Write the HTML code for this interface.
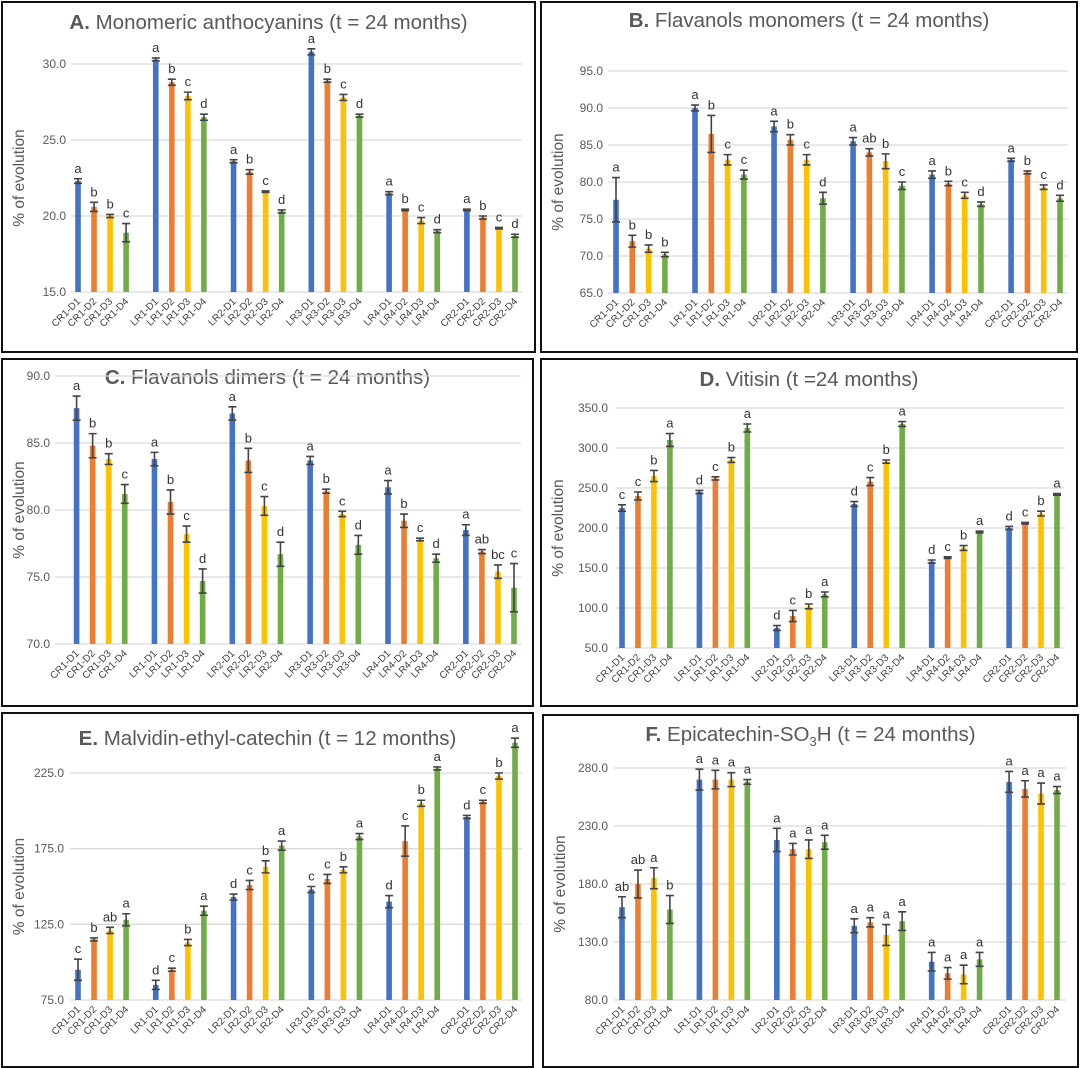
<!DOCTYPE html>
<html><head><meta charset="utf-8"><style>
html,body{margin:0;padding:0;background:#fff;}
svg{display:block;font-family:"Liberation Sans",sans-serif;}
</style></head><body>
<svg id="fig" width="1080" height="1068" viewBox="0 0 1080 1068"></svg>
<script>
const groups = ["CR1","LR1","LR2","LR3","LR4","CR2"];
const doses = ["D1","D2","D3","D4"];
const colors = ["#4472C4","#ED7D31","#FFC000","#70AD47"];

const aValues = [22.3,20.6,20.0,18.9, 30.3,28.8,27.9,26.5, 23.6,22.9,21.6,20.3, 30.8,28.9,27.8,26.6, 21.5,20.4,19.7,19.0, 20.4,19.9,19.2,18.7];
const aErrors = [0.15,0.3,0.1,0.6, 0.1,0.2,0.25,0.2, 0.1,0.15,0.05,0.1, 0.2,0.1,0.2,0.1, 0.1,0.05,0.2,0.1, 0.05,0.1,0.05,0.1];
const aLetters = ["a","b","b","c","a","b","c","d","a","b","c","d","a","b","c","d","a","b","c","d","a","b","c","d"];
const aTicks = [15,20,25,30];

const bValues = [77.6,72.0,71.0,70.2, 90.0,86.5,83.0,81.0, 87.5,85.7,83.0,77.8, 85.5,84.0,82.8,79.5, 81.0,79.8,78.2,77.0, 83.0,81.3,79.3,77.8];
const bErrors = [3,0.8,0.5,0.3, 0.4,2.5,0.7,0.6, 0.7,0.7,0.7,0.8, 0.5,0.5,1.0,0.5, 0.5,0.3,0.4,0.3, 0.2,0.2,0.3,0.4];
const bLetters = ["a","b","b","b","a","b","c","c","a","b","c","d","a","ab","b","c","a","b","c","d","a","b","c","d"];
const bTicks = [65,70,75,80,85,90,95];

const cValues = [87.6,84.8,83.8,81.2, 83.8,80.6,78.2,74.7, 87.2,83.7,80.3,76.7, 83.7,81.4,79.7,77.4, 81.7,79.2,77.8,76.4, 78.5,76.9,75.4,74.2];
const cErrors = [0.9,0.9,0.4,0.7, 0.5,0.9,0.6,0.9, 0.5,0.9,0.7,0.9, 0.3,0.15,0.2,0.7, 0.5,0.5,0.1,0.3, 0.4,0.15,0.5,1.8];
const cLetters = ["a","b","b","c","a","b","c","d","a","b","c","d","a","b","c","d","a","b","c","d","a","ab","bc","c"];
const cTicks = [70,75,80,85,90];

const dValues = [225,240,265,310, 245,262,285,325, 75,90,102,117, 230,258,283,330, 158,163,175,195, 200,206,218,242];
const dErrors = [4,5,7,8, 2,2,3,5, 3,7,3,3, 3,5,2,3, 2,1,3,1, 2,1,3,1];
const dLetters = ["c","c","b","a","d","c","b","a","d","c","b","a","d","c","b","a","d","c","b","a","d","c","b","a"];
const dTicks = [50,100,150,200,250,300,350];

const eValues = [95,115,121,128, 85,95,113,134, 143,151,163,177, 148,155,161,183, 140,180,205,228, 196,206,223,245];
const eErrors = [7,1,2,4, 3,1,2,3, 2,3,4,3, 2,3,2,2, 4,10,2,1, 1,1,2,3];
const eLetters = ["c","b","ab","a","d","c","b","a","d","c","b","a","c","c","b","a","d","c","b","a","d","c","b","a"];
const eTicks = [75,125,175,225];

const fValues = [160,180,185,158, 270,270,270,268, 218,210,210,216, 144,147,136,148, 113,103,102,115, 268,262,258,261];
const fErrors = [9,12,9,12, 9,8,6,2, 10,5,8,6, 6,4,9,8, 8,5,8,6, 9,7,9,3];
const fLetters = ["ab","ab","a","b","a","a","a","a","a","a","a","a","a","a","a","a","a","a","a","a","a","a","a","a"];
const fTicks = [80,130,180,230,280];

const NS = "http://www.w3.org/2000/svg";
const svg = document.getElementById("fig");
function mk(tag, attrs, parent){
  const e = document.createElementNS(NS, tag);
  for (const k in attrs) e.setAttribute(k, attrs[k]);
  (parent||svg).appendChild(e);
  return e;
}

function panel(cfg){
  const g = mk("g", {});
  
  
  const box = mk("rect", {x:cfg.box[0], y:cfg.box[1], width:cfg.box[2], height:cfg.box[3], fill:"#fff", stroke:"#111", "stroke-width":2}, g);
  
  
  const tmin = cfg.ticks[0], tmax = cfg.ticks[cfg.ticks.length-1];
  const yS = v => cfg.yb + (v - tmin) / (tmax - tmin) * (cfg.yt - cfg.yb);
  const bs = (cfg.bx1 - cfg.bx0) / 27.25, gs = bs * 4.85;
  const xS = i => cfg.bx0 + Math.floor(i/4)*gs + (i%4)*bs;
  // title
  const t = mk("text", {x:(cfg.box[0]+cfg.box[0]+cfg.box[2])/2, y:cfg.ty, "text-anchor":"middle", "font-size":20.5, fill:"#595959"}, g);
  
  
  t.innerHTML = cfg.title;
  // y label
  const yl = mk("text", {x:0, y:0, transform:`translate(${cfg.box[0]+22},${(cfg.yt+cfg.yb)/2}) rotate(-90)`, "text-anchor":"middle", "font-size":15.5, fill:"#595959"}, g);
  
  
  yl.textContent = "% of evolution";
  cfg.ticks.forEach(v => {
    const y = yS(v);
    const gl = mk("line", {x1:cfg.x0, x2:cfg.x1, y1:y, y2:y, stroke:"#d9d9d9", "stroke-width":1.3}, g);
    
    
    const tl = mk("text", {x:cfg.lx, y:y+4, "text-anchor":"end", "font-size":12, fill:"#595959"}, g);
    
    
    tl.textContent = v.toFixed(1);
  });
  cfg.values.forEach((v, i) => {
    const cx = xS(i), c = colors[i%4];
    const top = yS(v), base = cfg.yb;
    const r = mk("rect", {x:cx-2.8, y:top, width:5.6, height:base-top, fill:c}, g);
    
    
    const e = cfg.errors[i];
    const eh = yS(v+e), el = yS(v-e);
    const eb = mk("path", {d:`M${cx},${eh}V${el}M${cx-4},${eh}H${cx+4}M${cx-4},${el}H${cx+4}`, stroke:"#444", "stroke-width":1.6, fill:"none"}, g);
    
    
    const lt = mk("text", {x:cx, y:eh-6, "text-anchor":"middle", "font-size":13, fill:"#333"}, g);
    
    
    lt.textContent = cfg.letters[i];
    const xl = mk("text", {x:0, y:0, transform:`translate(${cx+3},${base+10}) rotate(-45)`, "text-anchor":"end", "font-size":10, fill:"#404040"}, g);
    
    
    xl.textContent = groups[Math.floor(i/4)] + '-' + doses[i%4];
  });
}

panel({id:"panel-a", box:[2,2,533,350], x0:71, x1:522, lx:66, bx0:78, bx1:515, yt:64, yb:292, ty:29, ticks:aTicks, values:aValues, errors:aErrors, letters:aLetters,
  title:'<tspan font-weight="bold">A.</tspan> Monomeric anthocyanins (t = 24 months)'});
panel({id:"panel-b", box:[541,2,536,350], x0:608, x1:1068, lx:603, bx0:616, bx1:1060, yt:71, yb:293, ty:27, ticks:bTicks, values:bValues, errors:bErrors, letters:bLetters,
  title:'<tspan font-weight="bold">B.</tspan> Flavanols monomers (t = 24 months)'});
panel({id:"panel-c", box:[2,359,531,347], x0:55, x1:521, lx:50, bx0:76.6, bx1:514, yt:376, yb:644, ty:384, ticks:cTicks, values:cValues, errors:cErrors, letters:cLetters,
  title:'<tspan font-weight="bold">C.</tspan> Flavanols dimers (t = 24 months)'});
panel({id:"panel-d", box:[541,359,536,347], x0:615, x1:1065, lx:608, bx0:622, bx1:1057, yt:408, yb:648, ty:386, ticks:dTicks, values:dValues, errors:dErrors, letters:dLetters,
  title:'<tspan font-weight="bold">D.</tspan> Vitisin (t =24 months)'});
panel({id:"panel-e", box:[2,713,531,354], x0:70, x1:522, lx:64, bx0:78, bx1:515, yt:773, yb:1000, ty:745, ticks:eTicks, values:eValues, errors:eErrors, letters:eLetters,
  title:'<tspan font-weight="bold">E.</tspan> Malvidin-ethyl-catechin (t = 12 months)'});
panel({id:"panel-f", box:[543,715,535,352], x0:614, x1:1066, lx:608, bx0:622, bx1:1057, yt:768, yb:1000, ty:741, ticks:fTicks, values:fValues, errors:fErrors, letters:fLetters,
  title:'<tspan font-weight="bold">F.</tspan> Epicatechin-SO<tspan font-size="13" dy="5">3</tspan><tspan dy="-5">H (t = 24 months)</tspan>'});
</script>
</body></html>
